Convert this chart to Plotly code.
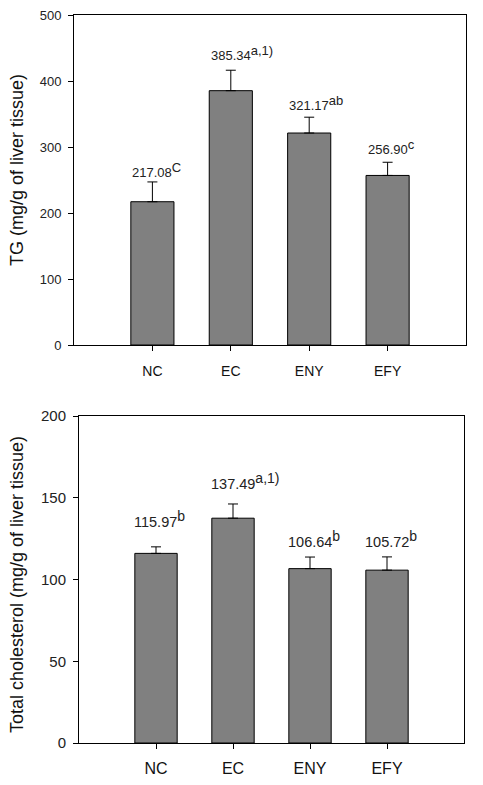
import plotly.graph_objects as go

groups = ["NC", "EC", "ENY", "EFY"]

tg_values = [217.08, 385.34, 321.17, 256.90]
tg_errors = [30, 31, 24, 20]
tg_letters = ["C", "a,1)", "ab", "c"]

tc_values = [115.97, 137.49, 106.64, 105.72]
tc_errors = [4.0, 8.7, 7.1, 8.1]
tc_letters = ["b", "a,1)", "b", "b"]

tg_ticks = [0, 100, 200, 300, 400, 500]
tc_ticks = [0, 50, 100, 150, 200]

W, H = 483, 785
FONT = "Arial, 'Liberation Sans', sans-serif"

def px_x(a, b):
    return [a / W, b / W]

def px_y(top, bottom):
    return [1 - bottom / H, 1 - top / H]

fig = go.Figure()

bar_style = dict(marker=dict(color="#808080", line=dict(color="black", width=1)), width=0.55, showlegend=False)

fig.add_trace(go.Bar(
    x=groups, y=tg_values, xaxis="x", yaxis="y",
    error_y=dict(type="data", symmetric=False, array=tg_errors, arrayminus=[0] * 4,
                 color="black", thickness=1, width=5),
    **bar_style))
fig.add_trace(go.Bar(
    x=groups, y=tc_values, xaxis="x2", yaxis="y2",
    error_y=dict(type="data", symmetric=False, array=tc_errors, arrayminus=[0] * 4,
                 color="black", thickness=1, width=5),
    **bar_style))

axis_common = dict(showline=True, linecolor="black", linewidth=1, mirror=True,
                   showgrid=False, zeroline=False, ticks="outside", ticklen=5,
                   tickcolor="black", automargin=False)

fig.update_layout(
    width=W, height=H,
    margin=dict(l=0, r=0, t=0, b=0, autoexpand=False),
    paper_bgcolor="white", plot_bgcolor="white",
    font=dict(family=FONT, color="#111"),
    xaxis=dict(domain=px_x(74, 466), anchor="y", range=[-1, 4], ticklabelstandoff=8,
               tickfont=dict(size=14, color="#111"), **axis_common),
    yaxis=dict(domain=px_y(15, 345), anchor="x", range=[0, 500], tickvals=tg_ticks,
               ticklabelstandoff=4, tickfont=dict(size=13, color="#222"), **axis_common),
    xaxis2=dict(domain=px_x(79, 464), anchor="y2", range=[-1, 4], ticklabelstandoff=6,
                tickfont=dict(size=16, color="#111"), **axis_common),
    yaxis2=dict(domain=px_y(416, 743), anchor="x2", range=[0, 200], tickvals=tc_ticks,
                ticklabelstandoff=4, tickfont=dict(size=15, color="#222"), **axis_common),
)

def label(v, l, size):
    return f"{v:.2f}<sup><span style='font-size:{size}px'>{l}</span></sup>"

annotations = []
top_shift = [0, 5, 2, 3]
for g, v, e, l, s in zip(groups, tg_values, tg_errors, tg_letters, top_shift):
    annotations.append(dict(x=g, y=v + e, xref="x", yref="y", xanchor="left", yanchor="bottom",
                            xshift=-22, yshift=s, showarrow=False,
                            text=label(v, l, 13), font=dict(size=13, color="#222")))
bot_shift = [15, 10, 5, 5]
for g, v, e, l, s in zip(groups, tc_values, tc_errors, tc_letters, bot_shift):
    annotations.append(dict(x=g, y=v + e, xref="x2", yref="y2", xanchor="left", yanchor="bottom",
                            xshift=-24, yshift=s, showarrow=False,
                            text=label(v, l, 14), font=dict(size=14.5, color="#222")))

annotations.append(dict(x=17 / W, y=1 - 170 / H, xref="paper", yref="paper", textangle=-90,
                        xanchor="center", yanchor="middle",
                        showarrow=False, text="TG (mg/g of liver tissue)",
                        font=dict(size=18, color="#111")))
annotations.append(dict(x=17 / W, y=1 - 585 / H, xref="paper", yref="paper", textangle=-90,
                        xanchor="center", yanchor="middle",
                        showarrow=False, text="Total cholesterol (mg/g of liver tissue)",
                        font=dict(size=18, color="#111")))

fig.update_layout(annotations=annotations)

fig.write_html("out.html")
